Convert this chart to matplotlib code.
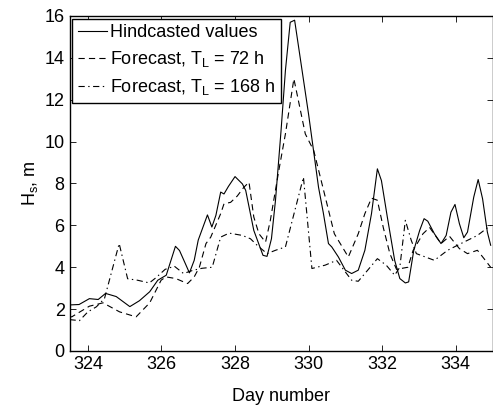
import matplotlib
matplotlib.use("Agg")
import matplotlib.pyplot as plt

plt.rcParams['font.family'] = ['Liberation Sans', 'DejaVu Sans']
plt.rcParams['mathtext.fontset'] = 'custom'
plt.rcParams['mathtext.rm'] = 'Liberation Sans'
plt.rcParams['mathtext.it'] = 'Liberation Sans'
plt.rcParams['lines.scale_dashes'] = False

# hindcasted values
hind_day = [323.5, 323.76, 324.04, 324.28, 324.48, 324.77, 325.14, 325.4, 325.68, 325.9,
            326.13, 326.38, 326.49, 326.65, 326.76, 326.89, 327.0, 327.25, 327.37, 327.48,
            327.61, 327.7, 327.82, 328.0, 328.2, 328.29, 328.51, 328.76, 328.87, 328.99,
            329.1, 329.25, 329.37, 329.5, 329.62, 330.0, 330.27, 330.4, 330.54, 330.63,
            330.81, 331.0, 331.17, 331.35, 331.53, 331.71, 331.87, 331.98, 332.14, 332.34,
            332.48, 332.63, 332.72, 332.86, 333.02, 333.14, 333.24, 333.42, 333.6, 333.74,
            333.87, 333.98, 334.1, 334.22, 334.32, 334.49, 334.61, 334.73, 334.86, 334.95]
hind_hs = [2.2, 2.22, 2.5, 2.46, 2.75, 2.6, 2.12, 2.4, 2.83, 3.38,
           3.62, 5.0, 4.8, 4.17, 3.73, 4.33, 5.3, 6.5, 5.92, 6.48,
           7.59, 7.5, 7.86, 8.33, 7.98, 7.67, 5.76, 4.57, 4.52, 5.36,
           7.2, 10.5, 13.4, 15.7, 15.8, 11.3, 7.82, 6.6, 5.13, 4.97,
           4.49, 3.86, 3.7, 3.86, 4.81, 6.56, 8.7, 8.14, 6.4, 4.33,
           3.46, 3.25, 3.3, 4.81, 5.76, 6.32, 6.2, 5.6, 5.13, 5.52,
           6.63, 7.0, 6.08, 5.41, 5.68, 7.35, 8.19, 7.27, 5.68, 5.05]

# forecast, lead time 72 h
f72_day = [323.5, 323.56, 324.04, 324.41, 324.86, 325.31, 325.68, 325.99, 326.12, 326.39,
           326.71, 326.89, 327.03, 327.21, 327.34, 327.61, 327.7, 327.88, 328.06, 328.24,
           328.38, 328.51, 328.65, 328.83, 328.96, 329.19, 329.37, 329.6, 329.91, 330.14,
           330.39, 330.7, 331.08, 331.35, 331.53, 331.71, 331.87, 332.03, 332.21, 332.39,
           332.7, 332.84, 333.11, 333.29, 333.6, 333.83, 334.1, 334.32, 334.59, 334.77, 334.95]
f72_hs = [1.65, 1.63, 2.14, 2.3, 1.87, 1.63, 2.3, 3.38, 3.54, 3.46,
          3.22, 3.54, 4.0, 5.13, 5.44, 6.56, 7.03, 7.1, 7.4, 7.82,
          8.06, 6.4, 5.6, 5.2, 6.24, 8.62, 10.37, 13.0, 10.37, 9.57,
          7.8, 5.6, 4.49, 5.6, 6.56, 7.3, 7.2, 5.9, 4.65, 3.9,
          4.0, 4.8, 5.6, 5.9, 5.13, 5.48, 4.89, 4.65, 4.81, 4.41, 4.0]

# forecast, lead time 168 h
f168_day = [323.5, 323.77, 324.0, 324.23, 324.45, 324.85, 325.08, 325.35, 325.67, 325.85,
            326.1, 326.35, 326.6, 326.85, 327.1, 327.38, 327.61, 327.84, 328.2, 328.42,
            328.6, 328.87, 329.1, 329.37, 329.86, 330.09, 330.45, 330.76, 331.17, 331.35,
            331.53, 331.87, 332.11, 332.34, 332.48, 332.63, 332.79, 332.93, 333.42, 333.78,
            334.14, 334.59, 334.95]
f168_hs = [1.5, 1.45, 1.87, 2.11, 2.5, 5.13, 3.45, 3.38, 3.25, 3.5,
           3.9, 4.05, 3.7, 3.85, 3.95, 4.0, 5.44, 5.63, 5.52, 5.36,
           5.05, 4.65, 4.81, 4.97, 8.3, 3.94, 4.1, 4.33, 3.38, 3.33,
           3.7, 4.41, 4.1, 3.62, 4.0, 6.24, 5.29, 4.65, 4.33, 4.81,
           5.13, 5.52, 6.0]

labels = ["Hindcasted values",
          r"Forecast, T$_\mathregular{L}$ = 72 h",
          r"Forecast, T$_\mathregular{L}$ = 168 h"]

fig = plt.figure(figsize=(4.93, 4.07), dpi=100)
ax = fig.add_axes([0.141, 0.1376, 0.858, 0.8231])

ax.plot(hind_day, hind_hs, color='black', lw=0.8, label=labels[0])
ax.plot(f72_day, f72_hs, color='black', lw=0.8, dashes=[4.5, 3], label=labels[1])
ax.plot(f168_day, f168_hs, color='black', lw=0.8, dashes=[4.5, 2.5, 1, 2.5], label=labels[2])

ax.set_xlim(323.5, 335)
ax.set_ylim(0, 16)
ax.set_xticks(range(324, 335, 2))
ax.set_yticks(range(0, 17, 2))
ax.tick_params(direction='in', top=True, right=True, length=4.5, width=0.6, labelsize=13)
for s in ax.spines.values():
    s.set_linewidth(1.0)

ax.set_xlabel("Day number", fontsize=13, labelpad=11)
ax.set_ylabel(r"H$_\mathregular{s}$, m", fontsize=13, labelpad=3)

leg = ax.legend(loc='upper left', fontsize=13, frameon=True, fancybox=False,
                edgecolor='black', framealpha=1, borderaxespad=0.15,
                handlelength=1.6, handletextpad=0.2, labelspacing=0.45,
                borderpad=0.3)
leg.get_frame().set_linewidth(1.0)

fig.savefig("out.png", dpi=100)
